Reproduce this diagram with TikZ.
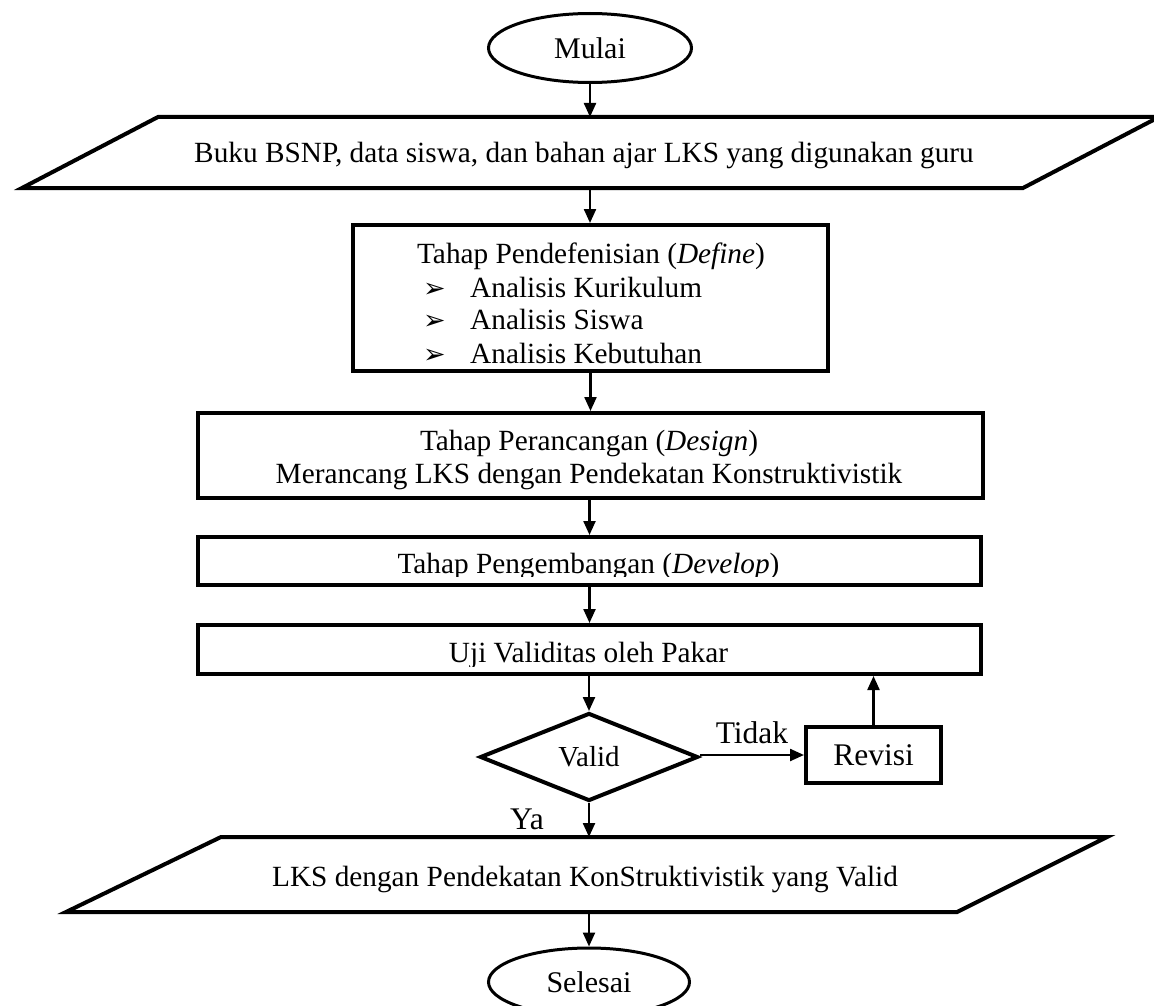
\documentclass[tikz,border=0pt]{standalone}
\usepackage{fontspec}
\setmainfont{Liberation Serif}
\newfontfamily\symfont{DejaVu Sans}
\usetikzlibrary{arrows.meta,shapes.geometric}
\begin{document}
\begin{tikzpicture}[x=1pt,y=-1pt,
  box/.style={draw,line width=4pt,rectangle,inner sep=0pt},
  term/.style={draw,line width=3pt,ellipse,inner sep=0pt,font=\fontsize{30}{34}\selectfont},
  txt/.style={font=\fontsize{29.3}{33}\selectfont,inner sep=0pt},
  lbl/.style={font=\fontsize{31.5}{36}\selectfont,inner sep=0pt},
  bul/.style={font=\symfont\fontsize{27}{30}\selectfont,inner sep=0pt},
  arr/.style={line width=2.3pt,-{Triangle[length=14pt,width=12pt]}},
  io/.style={line width=4pt,line join=miter}
]
\useasboundingbox (0,0) rectangle (1154,1006);

% start
\node[term,minimum width=203pt,minimum height=69pt] (mulai) at (590,48) {Mulai};

% input parallelogram
\draw[io] (158,117) -- (1159,117) -- (1023,188) -- (22,188) -- cycle;
\coordinate (p1n) at (590,117);
\coordinate (p1s) at (590,188);
\node[txt,anchor=base] (buku) at (584,163) {Buku BSNP, data siswa, dan bahan ajar LKS yang digunakan guru};

% define
\node[box,minimum width=475pt,minimum height=146pt] (define) at (590.5,298) {};
\node[txt,anchor=base] (deft) at (591,263) {Tahap Pendefenisian (\textit{Define})};
\node[bul,anchor=base west] (b1) at (423,297) {➢};
\node[bul,anchor=base west] (b2) at (423,329) {➢};
\node[bul,anchor=base west] (b3) at (423,363) {➢};
\node[txt,anchor=base west] (d1) at (470,297) {Analisis Kurikulum};
\node[txt,anchor=base west] (d2) at (470,329) {Analisis Siswa};
\node[txt,anchor=base west] (d3) at (470,363) {Analisis Kebutuhan};

% design
\node[box,minimum width=785pt,minimum height=85pt] (design) at (590.5,455.5) {};
\node[txt,anchor=base] (des1) at (589,450) {Tahap Perancangan (\textit{Design})};
\node[txt,anchor=base] (des2) at (589,483) {Merancang LKS dengan Pendekatan Konstruktivistik};

% develop
\node[box,minimum width=783pt,minimum height=48pt] (develop) at (589.5,561) {};
\begin{scope}
\clip (196,537) rectangle (983,576);
\node[txt,anchor=base] (devt) at (588.5,573) {Tahap Pengembangan (\textit{Develop})};
\end{scope}

% uji
\node[box,minimum width=783pt,minimum height=49pt] (uji) at (589.5,649.5) {};
\begin{scope}
\clip (196,625) rectangle (983,666);
\node[txt,anchor=base] (ujit) at (588.5,662) {Uji Validitas oleh Pakar};
\end{scope}

% decision
\node[draw,diamond,line width=4pt,inner sep=0pt,minimum width=218pt,minimum height=88pt,font=\fontsize{29}{33}\selectfont] (valid) at (589,757) {Valid};

% revisi
\node[box,minimum width=135pt,minimum height=56pt,lbl] (revisi) at (873.5,755) {Revisi};

% output parallelogram
\draw[io] (221,837) -- (1107,837) -- (957,912) -- (66,912) -- cycle;
\coordinate (p2n) at (589,837);
\coordinate (p2s) at (589,912);
\node[txt,anchor=base] (lks) at (585,886) {LKS dengan Pendekatan KonStruktivistik yang Valid};

% end
\node[term,minimum width=201pt,minimum height=68pt] (selesai) at (589,982) {Selesai};

% connectors
\draw[arr] (mulai.south) -- (mulai.south |- p1n);
\draw[arr] (p1s) -- (p1s |- define.north);
\draw[arr] (define.south) -- (define.south |- design.north);
\draw[arr] (develop.north |- design.south) -- (develop.north);
\draw[arr] (develop.south) -- (develop.south |- uji.north);
\draw[arr] (valid.north |- uji.south) -- (valid.north);
\draw[arr] (valid.east |- revisi.west) -- (revisi.west);
\node[lbl,anchor=base] (tidak) at (752,743) {Tidak};
\draw[arr] (revisi.north) -- (revisi.north |- uji.south);
\draw[arr] (valid.south) -- (valid.south |- p2n);
\node[lbl,anchor=base] (ya) at (527,829) {Ya};
\draw[arr] (p2s) -- (p2s |- selesai.north);
\end{tikzpicture}
\end{document}
